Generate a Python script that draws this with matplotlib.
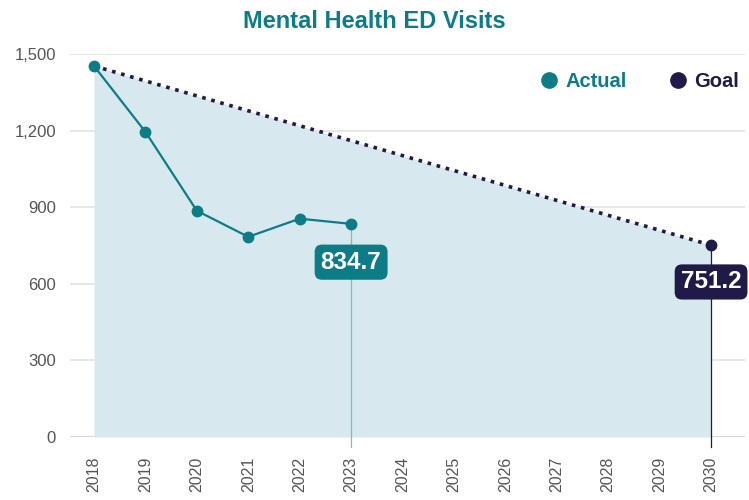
import numpy as np
import matplotlib
matplotlib.use('Agg')
import matplotlib.pyplot as plt
from matplotlib.lines import Line2D

years = np.arange(2018, 2031)
actual_years = [2018, 2019, 2020, 2021, 2022, 2023]
actual_vals = [1453, 1195, 886, 784, 855, 834.7]
goal_years = [2018, 2030]
goal_vals = [1453, 751.2]
yticks = [0, 300, 600, 900, 1200, 1500]

teal = '#0e7c86'
navy = '#1f1a47'
fill_col = '#d7e9ee'
grey = '#555555'

plt.rcParams['font.family'] = ['Liberation Sans', 'DejaVu Sans']

fig = plt.figure(figsize=(7.49, 5), dpi=100)
ax = fig.add_axes([70/749, 63/500, 675/749, 383/500])

ax.fill_between(goal_years, goal_vals, 0, color=fill_col, lw=0, zorder=1)
for v in yticks:
    ax.axhline(v, color='#d0d0d0' if v == 0 else '#e3e3e3', lw=1.2, zorder=0.5)

ax.plot(goal_years, goal_vals, color=navy, ls=(0, (1, 1.6)), lw=2.6, zorder=3)
ax.plot(goal_years[-1:], goal_vals[-1:], 'o', color=navy, ms=7.5, zorder=4)
ax.plot(actual_years, actual_vals, '-o', color=teal, lw=1.6, ms=7.5, zorder=5)

# drop lines to the axis
ax.plot([actual_years[-1]] * 2, [actual_vals[-1], -40], color='#7dbac4', lw=0.9, clip_on=False, zorder=2)
ax.plot([goal_years[-1]] * 2, [goal_vals[-1], -40], color=navy, lw=0.9, clip_on=False, zorder=2)

box = 'round,pad=0.25,rounding_size=0.3'
ax.text(actual_years[-1], actual_vals[-1] - 150, f'{actual_vals[-1]:.1f}', ha='center', va='center',
        color='white', fontsize=17.5, fontweight='bold', zorder=6,
        bbox=dict(boxstyle=box, fc=teal, ec='none'))
ax.text(goal_years[-1], goal_vals[-1] - 144, f'{goal_vals[-1]:.1f}', ha='center', va='center',
        color='white', fontsize=17.5, fontweight='bold', zorder=6,
        bbox=dict(boxstyle=box, fc=navy, ec='none'))

ax.set_xlim(2017.533, 2030.66)
ax.set_ylim(0, 1500)
ax.set_xticks(years)
ax.set_xticklabels([str(y) for y in years], rotation=90, fontsize=11.5, color=grey)
ax.set_yticks(yticks)
ax.set_yticklabels([f'{v:,}' for v in yticks], fontsize=12, color=grey)
ax.tick_params(length=0, pad=10)
ax.tick_params(axis='x', pad=14)
for s in ax.spines.values():
    s.set_visible(False)
fig.text(0.5, 0.958, 'Mental Health ED Visits', color=teal, fontsize=17, fontweight='bold',
         ha='center', va='center')

handles = [Line2D([], [], marker='o', ls='none', color=teal, ms=11),
           Line2D([], [], marker='o', ls='none', color=navy, ms=11)]
leg = ax.legend(handles, ['Actual', 'Goal'], ncol=2, frameon=False, loc='upper right',
                bbox_to_anchor=(1.018, 1.0), handlelength=1.0, handletextpad=0.3, columnspacing=2.05,
                prop={'weight': 'bold', 'size': 14.5})
for t, c in zip(leg.get_texts(), [teal, navy]):
    t.set_color(c)

fig.savefig('out.png', dpi=100)
